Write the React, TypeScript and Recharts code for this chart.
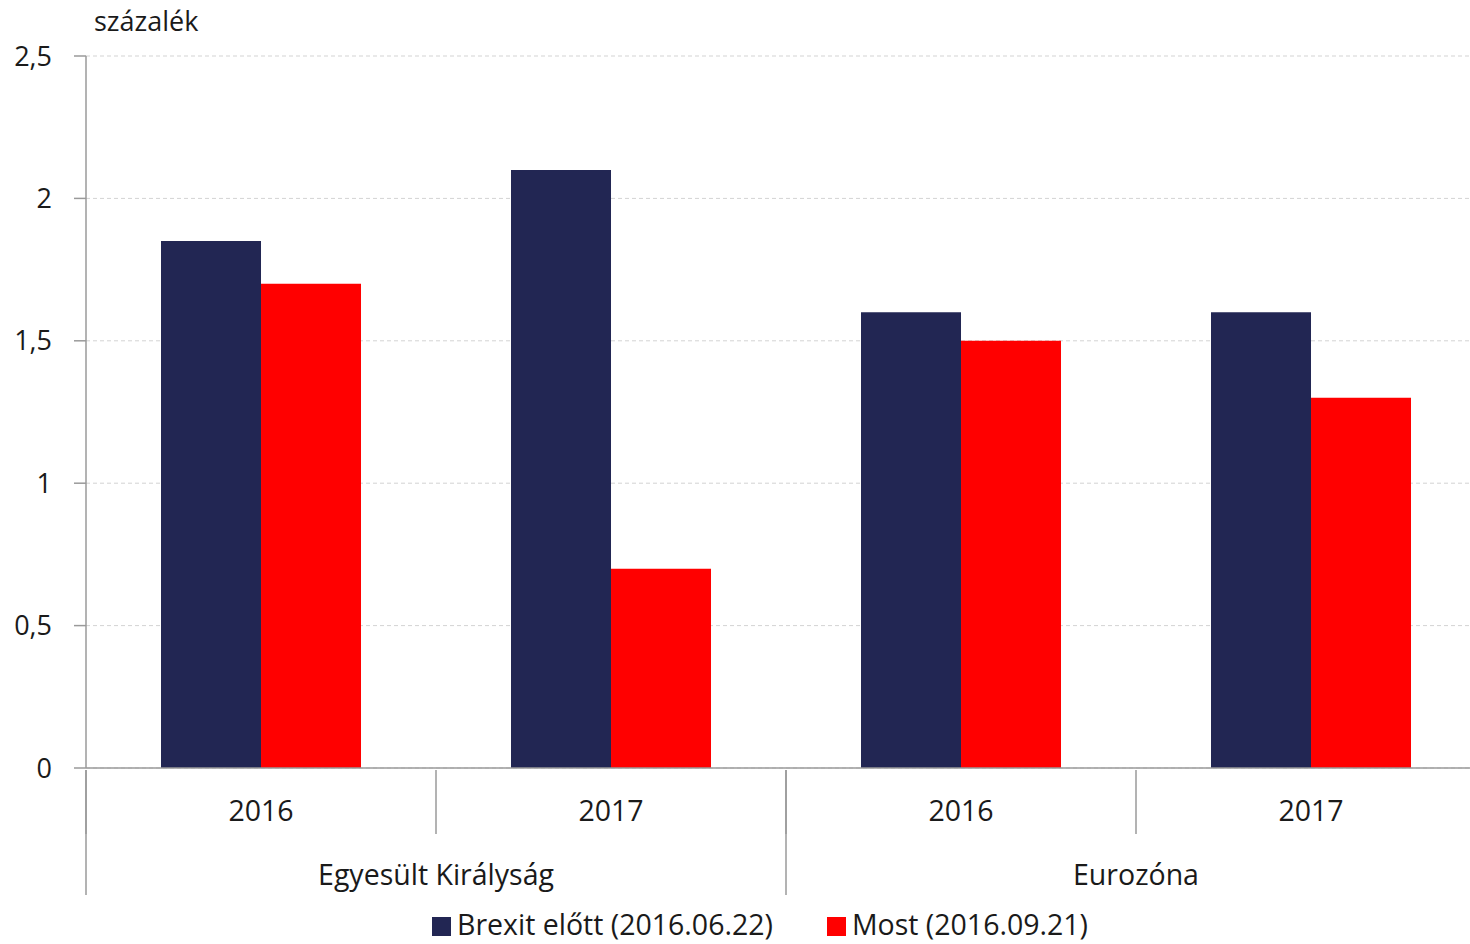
import { Bar, BarChart, CartesianGrid, Legend, XAxis, YAxis } from "recharts";

const NAVY = "#222653";
const RED = "#FF0000";
const AXIS = "#9a9a9a";
const TEXT = "#1a1a1a";
const FONT = "'Open Sans', sans-serif";

const groups = ["Egyesült Királyság", "Egyesült Királyság", "Eurozóna", "Eurozóna"];
const years = ["2016", "2017", "2016", "2017"];
const beforeBrexit = [1.85, 2.1, 1.6, 1.6];
const now = [1.7, 0.7, 1.5, 1.3];
const yTicks = [0, 0.5, 1, 1.5, 2, 2.5];

const data = years.map((y, i) => ({
  id: `${groups[i]}-${y}`,
  year: y,
  group: groups[i],
  before: beforeBrexit[i],
  now: now[i],
}));

const CHART_W = 1490;
const CHART_H = 944;
const PLOT_LEFT = 86;
const PLOT_RIGHT = 1486;
const YEAR_AXIS_H = 64;
const GROUP_AXIS_H = 61;
const LEGEND_H = 40;
const BAND = (PLOT_RIGHT - PLOT_LEFT) / years.length;

function YearTick(props: any) {
  const { x, y, payload } = props;
  const left = x - BAND / 2;
  return (
    <g>
      <line x1={left} y1={y} x2={left} y2={y + YEAR_AXIS_H} stroke={AXIS} strokeWidth={1.5} />
      <text x={x} y={y + 51} textAnchor="middle" fontSize={28.5} fill={TEXT} fontFamily={FONT}>
        {years[payload.index] ?? payload.value}
      </text>
    </g>
  );
}

function GroupTick(props: any) {
  const { x, y, payload } = props;
  const left = x - BAND;
  return (
    <g>
      <line x1={left} y1={y - YEAR_AXIS_H} x2={left} y2={y + GROUP_AXIS_H} stroke={AXIS} strokeWidth={1.5} />
      <text x={x} y={y + 51} textAnchor="middle" fontSize={28.5} fill={TEXT} fontFamily={FONT}>
        {payload.value}
      </text>
    </g>
  );
}

function LegendContent() {
  const items = [
    { label: "Brexit előtt (2016.06.22)", color: NAVY },
    { label: "Most (2016.09.21)", color: RED },
  ];
  return (
    <div
      style={{
        display: "flex",
        justifyContent: "center",
        alignItems: "center",
        gap: 54,
        height: LEGEND_H,
        fontFamily: FONT,
        fontSize: 28.5,
        color: TEXT,
      }}
    >
      {items.map((it) => (
        <div key={it.label} style={{ display: "flex", alignItems: "center" }}>
          <span style={{ width: 19, height: 19, background: it.color, display: "inline-block", marginRight: 6, marginTop: 4 }} />
          <span>{it.label}</span>
        </div>
      ))}
    </div>
  );
}

export default function App() {
  return (
    <div style={{ position: "absolute", left: 0, top: 0, width: 1470, height: CHART_H, overflow: "hidden", background: "#fff" }}>
      <div style={{ position: "absolute", left: 94, top: 2, fontFamily: FONT, fontSize: 27, color: TEXT }}>százalék</div>
      <BarChart
        width={CHART_W}
        height={CHART_H}
        data={data}
        margin={{ top: 56, right: CHART_W - PLOT_RIGHT, left: 0, bottom: CHART_H - 893 - LEGEND_H }}
        barCategoryGap="21.43%"
        barGap={0}
      >
        <CartesianGrid vertical={false} stroke="#d3d3d3" strokeDasharray="4 3" />
        <YAxis
          width={PLOT_LEFT}
          domain={[0, 2.5]}
          ticks={yTicks}
          interval={0}
          tickFormatter={(v: number) => String(v).replace(".", ",")}
          axisLine={{ stroke: AXIS, strokeWidth: 1.5 }}
          tickLine={{ stroke: AXIS, strokeWidth: 1.5 }}
          tickSize={12}
          tickMargin={22}
          tick={{ fill: TEXT, fontSize: 27, fontFamily: FONT }}
        />
        <XAxis
          dataKey="id"
          height={YEAR_AXIS_H}
          interval={0}
          axisLine={{ stroke: AXIS, strokeWidth: 1.5 }}
          tickLine={false}
          tickSize={0}
          tick={<YearTick />}
        />
        <XAxis
          xAxisId="group"
          dataKey="group"
          allowDuplicatedCategory={false}
          height={GROUP_AXIS_H}
          interval={0}
          axisLine={false}
          tickLine={false}
          tickSize={0}
          tick={<GroupTick />}
        />
        <Legend
          verticalAlign="bottom"
          content={<LegendContent />}
          wrapperStyle={{ left: 0, width: 1520, height: LEGEND_H, bottom: 0 }}
        />
        <Bar dataKey="before" name="Brexit előtt (2016.06.22)" fill={NAVY} isAnimationActive={false} />
        <Bar dataKey="now" name="Most (2016.09.21)" fill={RED} isAnimationActive={false} />
      </BarChart>
    </div>
  );
}
